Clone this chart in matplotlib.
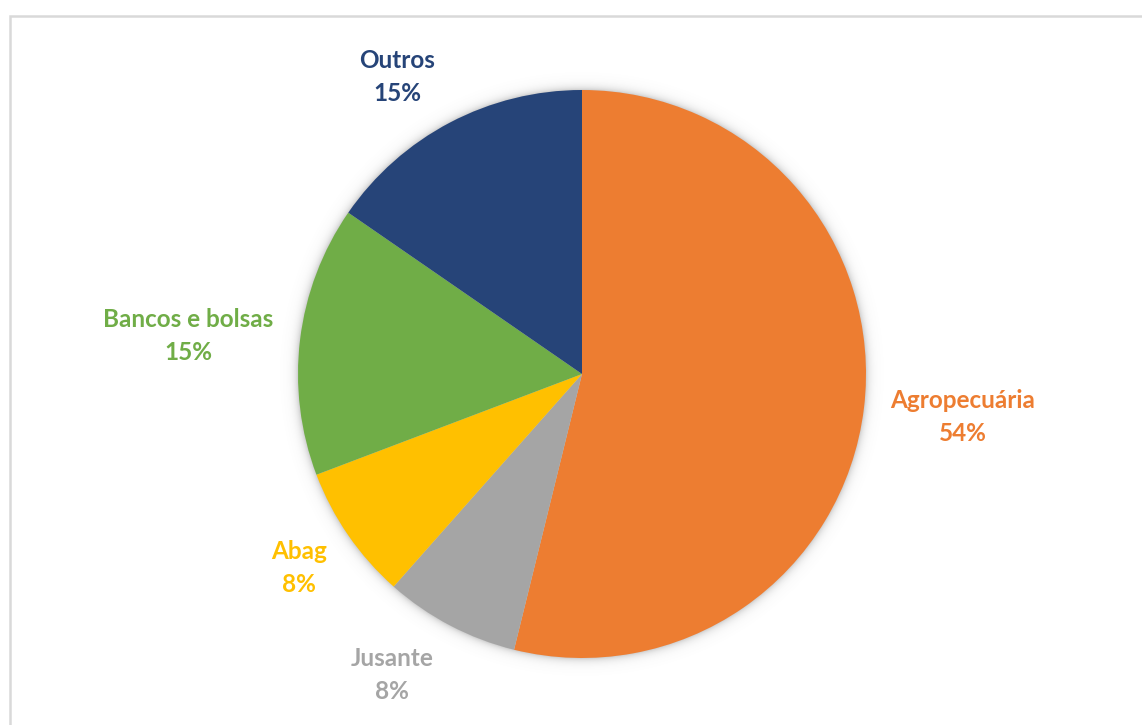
import numpy as np
import matplotlib
matplotlib.use("Agg")
import matplotlib.pyplot as plt
from matplotlib.patches import Rectangle

# Share of members by sector (counts)
categories = ["Agropecuária", "Jusante", "Abag", "Bancos e bolsas", "Outros"]
counts = [7, 1, 1, 2, 2]
colors = ["#ED7D31", "#A5A5A5", "#FFC000", "#70AD47", "#264478"]
# label placement: radial distance (in radii) and angular nudge (deg)
label_dist = [1.350, 1.253, 1.208, 1.394, 1.232]
label_nudge = [0.5, -4.6, -0.2, 1.4, 4.2]

W, H = 1142, 725
fig = plt.figure(figsize=(W / 100, H / 100), dpi=100)
ax = fig.add_axes([0, 0, 1, 1])

cx, cy, r = 582, H - 374, 284

# soft drop shadow around the pie
yy, xx = np.mgrid[0:H, 0:W]
d = np.hypot(xx + 0.5 - cx, (H - yy - 0.5) - cy) - r
alpha = np.clip(np.exp(-np.clip(d, 0, None) / 4.0) * 0.35, 0, 1)
alpha[d > 25] = 0
shadow = np.zeros((H, W, 4))
shadow[..., 3] = alpha
shadow[..., :3] = 0.45
ax.imshow(shadow, extent=(0, W, 0, H), zorder=1, interpolation="bilinear")

wedges, _ = ax.pie(counts, colors=colors, startangle=90, counterclock=False,
                   center=(cx, cy), radius=r, frame=True,
                   wedgeprops=dict(linewidth=0, zorder=2))
ax.set_xlim(0, W)
ax.set_ylim(0, H)
ax.set_aspect("equal")
ax.axis("off")

total = sum(counts)
for w, name, val, col, ld, nd in zip(wedges, categories, counts, colors,
                                     label_dist, label_nudge):
    mid = np.deg2rad((w.theta1 + w.theta2) / 2 + nd)
    x = cx + ld * r * np.cos(mid)
    y = cy + ld * r * np.sin(mid)
    pct = round(100 * val / total)
    ax.text(x, y, f"{name}\n{pct}%", color=col, ha="center", va="center",
            fontsize=17.5, fontweight="bold", family="Lato", linespacing=1.5,
            zorder=3)

# chart area border
fig.patches.append(Rectangle((10 / W, -0.1), 1.2, (H - 16) / H + 0.1,
                             transform=fig.transFigure, fill=False,
                             edgecolor="#D9D9D9", linewidth=1.8))

fig.savefig("out.png", dpi=100, facecolor="white")
